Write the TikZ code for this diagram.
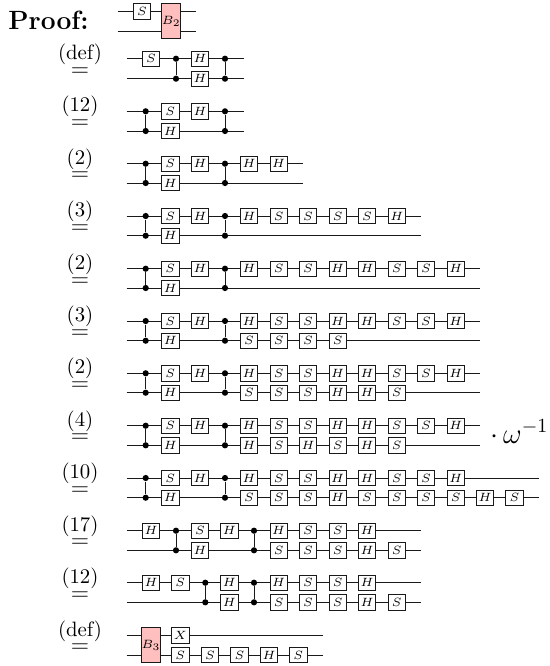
\documentclass[tikz,border=0pt]{standalone}
\usepackage{amsmath,amssymb}
\usepackage{tikz}
\newcommand{\qwire}[4]{\coordinate (#1a) at (#3,#2); \coordinate (#1b) at (#4,#2); \draw[wire] (#1a) -- (#1b);}
\newcommand{\qgates}[3]{\foreach \x/\g [count=\n] in {#3} \node[gate] (#1\n) at (\x,#2) {$\g$};}
\newcommand{\qcz}[4]{\node[ctrl] (#1t) at (#2,#3) {}; \node[ctrl] (#1b) at (#2,#4) {}; \draw[wire] (#1t) -- (#1b);}
\newcommand{\eqby}[1]{$\overset{\text{\fontsize{10.4}{12}\selectfont #1}}{=}$}
\begin{document}
\begin{tikzpicture}[
  x=0.5pt,y=-0.5pt,
  wire/.style={line width=0.5pt,black!90},
  gate/.style={draw=black!90,fill=white,line width=0.5pt,minimum width=8.7pt,minimum height=7.7pt,inner sep=0pt,font=\fontsize{6}{7}\selectfont},
  block/.style={gate,fill=red!25,minimum height=17.5pt},
  ctrl/.style={circle,fill=black,inner sep=0pt,minimum size=3.1pt},
  eqlab/.style={anchor=base,inner sep=0pt,yshift=0.6pt,font=\large}
]
  \useasboundingbox (0,0) rectangle (550,666);

  \node[anchor=base west,inner sep=0pt,font=\fontsize{13.2}{15}\selectfont\bfseries] (proof) at (8,29.3) {Proof:};

  \qwire{a0t}{11.3}{117.7}{196} \qwire{a0b}{31.3}{117.7}{196}
  \qgates{a0s}{11.3}{142/S}
  \node[block] (b2) at (171.3,21.3) {$B_2$};

  \node[eqlab] (eq1) at (80,77.2) {\eqby{(def)}};
  \qwire{a1t}{58.7}{126.7}{244.3} \qwire{a1b}{78.7}{126.7}{244.3}
  \qcz{a1c}{176}{58.7}{78.7} \qcz{a1d}{225}{58.7}{78.7}
  \qgates{a1s}{58.7}{151/S,200/H}
  \qgates{a1h}{78.7}{200/H}

  \node[eqlab] (eq2) at (80,129.6) {\eqby{(12)}};
  \qwire{a2t}{111.3}{126.7}{244.3} \qwire{a2b}{131}{126.7}{244.3}
  \qcz{a2c}{145.7}{111.3}{131} \qcz{a2d}{225}{111.3}{131}
  \qgates{a2s}{111.3}{170.3/S,200/H}
  \qgates{a2h}{131}{170.3/H}

  \node[eqlab] (eq3) at (80,181.8) {\eqby{(2)}};
  \qwire{a3t}{163.7}{126.7}{303.3} \qwire{a3b}{183}{126.7}{303.3}
  \qcz{a3c}{145.7}{163.7}{183} \qcz{a3d}{225}{163.7}{183}
  \qgates{a3s}{163.7}{170.3/S,200/H,249/H,278.7/H}
  \qgates{a3h}{183}{170.3/H}

  \node[eqlab] (eq4) at (80,234.6) {\eqby{(3)}};
  \qwire{a4t}{216}{126.7}{421.3} \qwire{a4b}{235.7}{126.7}{421.3}
  \qcz{a4c}{145.7}{216}{235.7} \qcz{a4d}{225}{216}{235.7}
  \qgates{a4s}{216}{170.3/S,200/H,249/H,278.7/S,308/S,337.7/S,367/S,396.7/H}
  \qgates{a4h}{235.7}{170.3/H}

  \node[eqlab] (eq5) at (80,287.2) {\eqby{(2)}};
  \qwire{a5t}{268.7}{126.7}{480} \qwire{a5b}{288}{126.7}{480}
  \qcz{a5c}{145.7}{268.7}{288} \qcz{a5d}{225}{268.7}{288}
  \qgates{a5s}{268.7}{170.3/S,200/H,249/H,278.7/S,308/S,337.7/H,367/H,396.7/S,426/S,455.7/H}
  \qgates{a5h}{288}{170.3/H}

  \node[eqlab] (eq6) at (80,339.4) {\eqby{(3)}};
  \qwire{a6t}{321}{126.7}{480} \qwire{a6b}{340.7}{126.7}{480}
  \qcz{a6c}{145.7}{321}{340.7} \qcz{a6d}{225}{321}{340.7}
  \qgates{a6s}{321}{170.3/S,200/H,249/H,278.7/S,308/S,337.7/H,367/H,396.7/S,426/S,455.7/H}
  \qgates{a6h}{340.7}{170.3/H,249/S,278.7/S,308/S,337.7/S}

  \node[eqlab] (eq7) at (80,391.4) {\eqby{(2)}};
  \qwire{a7t}{373.3}{126.7}{480} \qwire{a7b}{392.7}{126.7}{480}
  \qcz{a7c}{145.7}{373.3}{392.7} \qcz{a7d}{225}{373.3}{392.7}
  \qgates{a7s}{373.3}{170.3/S,200/H,249/H,278.7/S,308/S,337.7/H,367/H,396.7/S,426/S,455.7/H}
  \qgates{a7h}{392.7}{170.3/H,249/S,278.7/S,308/S,337.7/H,367/H,396.7/S}

  \node[eqlab] (eq8) at (80,443.8) {\eqby{(4)}};
  \qwire{a8t}{425.7}{126.7}{480} \qwire{a8b}{445.3}{126.7}{480}
  \qcz{a8c}{145.7}{425.7}{445.3} \qcz{a8d}{225}{425.7}{445.3}
  \qgates{a8s}{425.7}{170.3/S,200/H,249/H,278.7/S,308/S,337.7/H,367/H,396.7/S,426/S,455.7/H}
  \qgates{a8h}{445.3}{170.3/H,249/H,278.7/S,308/H,337.7/S,367/H,396.7/S}
  \node[anchor=base west,inner sep=0pt,font=\Large] (phase) at (490,443) {$\cdot\,\omega^{-1}$};

  \node[eqlab] (eq9) at (80,496.4) {\eqby{(10)}};
  \qwire{a9t}{478}{126.7}{539} \qwire{a9b}{497.7}{126.7}{539}
  \qcz{a9c}{145.7}{478}{497.7} \qcz{a9d}{225}{478}{497.7}
  \qgates{a9s}{478}{170.3/S,200/H,249/H,278.7/S,308/S,337.7/H,367/H,396.7/S,426/S,455.7/H}
  \qgates{a9h}{497.7}{170.3/H,249/S,278.7/S,308/S,337.7/H,367/S,396.7/S,426/S,455.7/S,485/H,514.5/S}

  \node[eqlab] (eq10) at (80,548.9) {\eqby{(17)}};
  \qwire{a10t}{530.7}{126.7}{421.3} \qwire{a10b}{550.3}{126.7}{421.3}
  \qcz{a10c}{176}{530.7}{550.3} \qcz{a10d}{254}{530.7}{550.3}
  \qgates{a10s}{530.7}{151/H,200/S,229.3/H,278.7/H,308/S,337.7/S,367/H}
  \qgates{a10h}{550.3}{200/H,278.7/S,308/S,337.7/S,367/H,396.7/S}

  \node[eqlab] (eq11) at (80,601.2) {\eqby{(12)}};
  \qwire{a11t}{582.7}{126.7}{421.3} \qwire{a11b}{602.3}{126.7}{421.3}
  \qcz{a11c}{205.3}{582.7}{602.3} \qcz{a11d}{254}{582.7}{602.3}
  \qgates{a11s}{582.7}{151/H,180.3/S,229.3/H,278.7/H,308/S,337.7/S,367/H}
  \qgates{a11h}{602.3}{229.3/H,278.7/S,308/S,337.7/S,367/H,396.7/S}

  \node[eqlab] (eq12) at (80,654) {\eqby{(def)}};
  \qwire{a12t}{635.3}{126.7}{323} \qwire{a12b}{655}{126.7}{323}
  \node[block] (b3) at (151,645.1) {$B_3$};
  \qgates{a12s}{635.3}{180.3/X}
  \qgates{a12h}{655}{180.3/S,210/S,239.5/S,269/H,298.3/S}
\end{tikzpicture}
\end{document}
